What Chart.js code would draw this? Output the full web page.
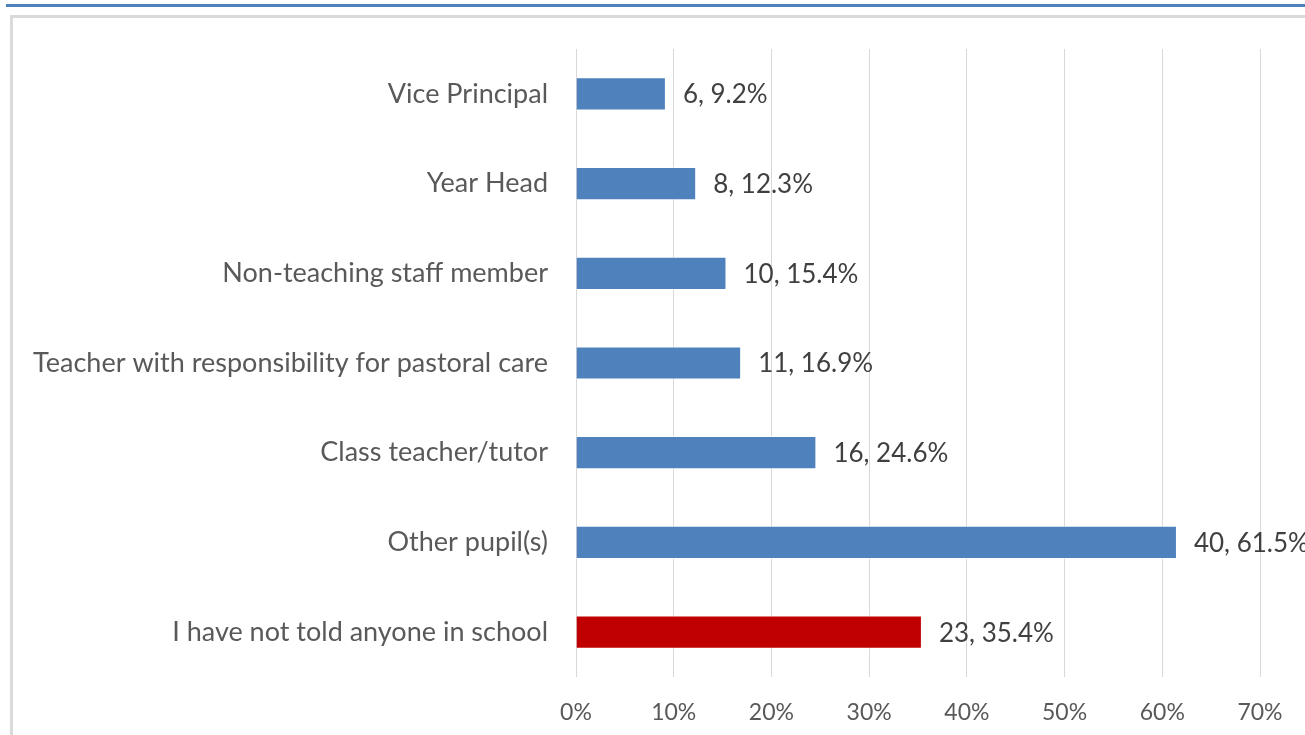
<!DOCTYPE html>
<html><head><meta charset="utf-8">
<script src="https://cdn.jsdelivr.net/npm/chart.js@4"></script>
<style>
html,body{margin:0;padding:0;background:#fff;width:1305px;height:735px;overflow:hidden;position:relative}
#topline{position:absolute;left:6px;right:0;top:4px;height:3px;background:#4F81BD}
#frame{position:absolute;left:10px;top:15px;width:1400px;height:800px;border-left:3px solid #DADADA;border-top:3px solid #DADADA}
#wrap{position:absolute;left:0;top:0;width:1305px;height:735px}
</style></head><body>
<div id="topline"></div><div id="frame"></div>
<div id="wrap"><canvas id="c" width="1305" height="735"></canvas></div>
<script>
const categories = ["Vice Principal","Year Head","Non-teaching staff member","Teacher with responsibility for pastoral care","Class teacher/tutor","Other pupil(s)","I have not told anyone in school"];
const counts = [6,8,10,11,16,40,23];
const percents = [9.2,12.3,15.4,16.9,24.6,61.5,35.4];
const barColors = ["#4F81BD","#4F81BD","#4F81BD","#4F81BD","#4F81BD","#4F81BD","#C00000"];
const tickValues = [0,10,20,30,40,50,60,70];

const FONT = "Lato, sans-serif";
const labelPlugin = {
  id:'vals',
  afterDatasetsDraw(chart){
    const ctx = chart.ctx;
    const meta = chart.getDatasetMeta(0);
    ctx.save();
    ctx.font = "26px " + FONT;
    ctx.fillStyle = "#404040";
    ctx.textBaseline = "middle";
    ctx.textAlign = "left";
    meta.data.forEach((bar,i)=>{
      ctx.fillText(counts[i] + ", " + percents[i] + "%", bar.x + 17, bar.y + 1);
    });
    ctx.restore();
  }
};

new Chart(document.getElementById('c'), {
  type:'bar',
  data:{labels:categories, datasets:[{data:percents, backgroundColor:barColors, borderColor:"rgba(255,255,255,0.6)", borderWidth:1, barPercentage:0.37, categoryPercentage:1}]},
  options:{
    indexAxis:'y', responsive:false, animation:false,
    layout:{padding:{top:49,right:45,left:0,bottom:0}},
    plugins:{legend:{display:false}, tooltip:{enabled:false}},
    scales:{
      x:{min:0,max:70,
        afterBuildTicks(s){ s.ticks = tickValues.map(v=>({value:v})); },
        afterFit(s){ s.height = 58; },
        grid:{color:"#D9D9D9", lineWidth:1, drawTicks:false},
        border:{display:false},
        ticks:{padding:22, color:"#595959", font:{family:FONT,size:23}, callback:v=>v+"%", maxRotation:0}
      },
      y:{
        afterFit(s){ s.width = 576; },
        grid:{display:false, drawTicks:false},
        border:{display:false},
        ticks:{padding:28, color:"#595959", font:{family:FONT,size:27}}
      }
    }
  },
  plugins:[labelPlugin]
});
</script></body></html>
